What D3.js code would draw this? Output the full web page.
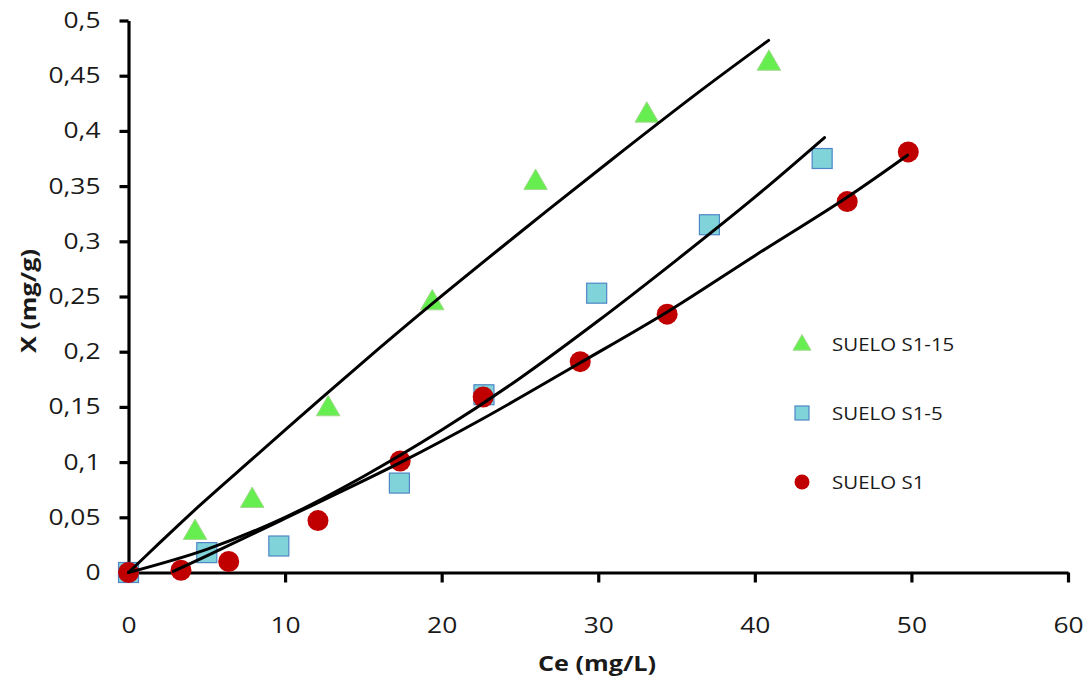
<!DOCTYPE html>
<html><head><meta charset="utf-8">
<script src="https://cdn.jsdelivr.net/npm/d3@7"></script>
<style>body{margin:0;background:#fff}svg{display:block}text{font-family:"Open Sans",sans-serif}</style>
</head><body><svg id="c" width="1086" height="682"></svg>
<script>
// ---- data ----
const seriesNames = ["SUELO S1-15", "SUELO S1-5", "SUELO S1"];
const xTicks = [0, 10, 20, 30, 40, 50, 60];
const yTicks = [0, 0.05, 0.1, 0.15, 0.2, 0.25, 0.3, 0.35, 0.4, 0.45, 0.5];
const yTickLabels = ["0", "0,05", "0,1", "0,15", "0,2", "0,25", "0,3", "0,35", "0,4", "0,45", "0,5"];

const s115Ce = [0, 4.25, 7.9, 12.75, 19.4, 26.0, 33.1, 40.9];
const s115X  = [0, 0.037, 0.066, 0.149, 0.245, 0.354, 0.415, 0.462];
const s15Ce  = [0, 5.0, 9.6, 17.3, 22.7, 29.9, 37.1, 44.3];
const s15X   = [0, 0.018, 0.024, 0.081, 0.161, 0.253, 0.315, 0.375];
const s1Ce   = [0, 3.35, 6.4, 12.1, 17.35, 22.65, 28.85, 34.4, 45.9, 49.8];
const s1X    = [0, 0.002, 0.010, 0.047, 0.101, 0.159, 0.191, 0.234, 0.336, 0.381];

// fitted curves
const fit115Ce = [0, 2, 4.57, 8, 12.25, 16, 19.27, 25, 30.77, 36.5, 40.88];
const fit115X  = [0, 0.027, 0.061, 0.104, 0.157, 0.203, 0.242, 0.308, 0.373, 0.436, 0.482];
const fit15Ce  = [0, 5, 10, 15, 20, 25, 30, 35, 40, 44.45];
const fit15X   = [0, 0.021, 0.050, 0.087, 0.129, 0.176, 0.228, 0.283, 0.340, 0.394];
const fit1Ce   = [2.86, 5, 10, 17.35, 22.65, 28.85, 34.4, 40, 45.9, 49.75];
const fit1X    = [0.001, 0.015, 0.049, 0.0995, 0.1395, 0.19, 0.236, 0.287, 0.340, 0.378];

// ---- chart ----
const svg = d3.select("#c");
const x = d3.scaleLinear().domain([0, 60]).range([128.5, 1068]);
const y = d3.scaleLinear().domain([0, 0.5]).range([572.5, 20.5]);
const SX = 1.2; // horizontal text stretch

function stretchTexts(sel){
  sel.selectAll("text").each(function(){
    const t = d3.select(this);
    const xv = +t.attr("x") || 0;
    t.attr("x", xv / SX).attr("transform", `scale(${SX},1)`);
  });
}

// axes
const gy = svg.append("g").attr("transform", `translate(${x(0)},0)`)
  .call(d3.axisLeft(y).tickValues(yTicks).tickFormat((d,i)=>yTickLabels[i]).tickSize(9).tickPadding(19).tickSizeOuter(0));
const gx = svg.append("g").attr("transform", `translate(0,${y(0)})`)
  .call(d3.axisBottom(x).tickValues(xTicks).tickFormat(d3.format("d")).tickSize(10).tickPadding(51).tickSizeOuter(0));
[gx, gy].forEach(g=>{
  g.select(".domain").attr("stroke","#000").attr("stroke-width",3.2);
  g.selectAll(".tick line").attr("stroke","#000").attr("stroke-width",3.2);
  g.selectAll(".tick text").attr("font-size",22).attr("fill","#1a1a1a").attr("font-family","Open Sans");
  stretchTexts(g);
});
gx.selectAll(".tick text").attr("dy","0em");

// axis titles
svg.append("text").attr("transform",`translate(597,671) scale(${SX},1)`)
  .attr("text-anchor","middle").attr("font-size",21).attr("font-weight","bold").attr("fill","#1a1a1a").text("Ce (mg/L)");
svg.append("text").attr("transform",`translate(36,301) rotate(-90) scale(${SX},1)`)
  .attr("text-anchor","middle").attr("font-size",21).attr("font-weight","bold").attr("fill","#1a1a1a").text("X (mg/g)");

// markers
const triPath = d3.symbol().type(d3.symbolTriangle).size(240)();
const zip = (a,b)=>a.map((v,i)=>[v,b[i]]);

const gm = svg.append("g");
gm.selectAll("path.tri").data(zip(s115Ce,s115X).slice(1)).join("path")
  .attr("d", triPath).attr("transform", d=>`translate(${x(d[0])},${y(d[1])+1})`)
  .attr("fill","#66ee50").attr("stroke","#a3d88c").attr("stroke-width",1);
gm.selectAll("rect.sq").data(zip(s15Ce,s15X)).join("rect")
  .attr("x", d=>x(d[0])-10).attr("y", d=>y(d[1])-10).attr("width",20).attr("height",20)
  .attr("fill","#7fd3d9").attr("stroke","#4f86c6").attr("stroke-width",1.2);
gm.selectAll("circle").data(zip(s1Ce,s1X)).join("circle")
  .attr("cx", d=>x(d[0])).attr("cy", d=>y(d[1])).attr("r",10.5)
  .attr("fill","#c00000");

// fitted lines
const line = d3.line().x(d=>x(d[0])).y(d=>y(d[1])).curve(d3.curveCatmullRom.alpha(0.5));
[[fit115Ce,fit115X],[fit15Ce,fit15X],[fit1Ce,fit1X]].forEach(([a,b])=>{
  svg.append("path").attr("d", line(zip(a,b))).attr("fill","none")
    .attr("stroke","#000").attr("stroke-width",3).attr("stroke-linecap","round");
});

// legend
const legY = [344, 413, 482];
const lg = svg.append("g");
lg.append("path").attr("d", d3.symbol().type(d3.symbolTriangle).size(140)())
  .attr("transform",`translate(802,${legY[0]+1})`).attr("fill","#66ee50").attr("stroke","#a3d88c");
lg.append("rect").attr("x",795).attr("y",legY[1]-7).attr("width",14).attr("height",14)
  .attr("fill","#7fd3d9").attr("stroke","#4f86c6").attr("stroke-width",1.2);
lg.append("circle").attr("cx",802).attr("cy",legY[2]).attr("r",7.5).attr("fill","#c00000");
seriesNames.forEach((n,i)=>{
  lg.append("text").attr("transform",`translate(832,${legY[i]+6.5}) scale(1.17,1)`)
    .attr("font-size",17.5).attr("fill","#1a1a1a").text(n);
});
</script></body></html>
